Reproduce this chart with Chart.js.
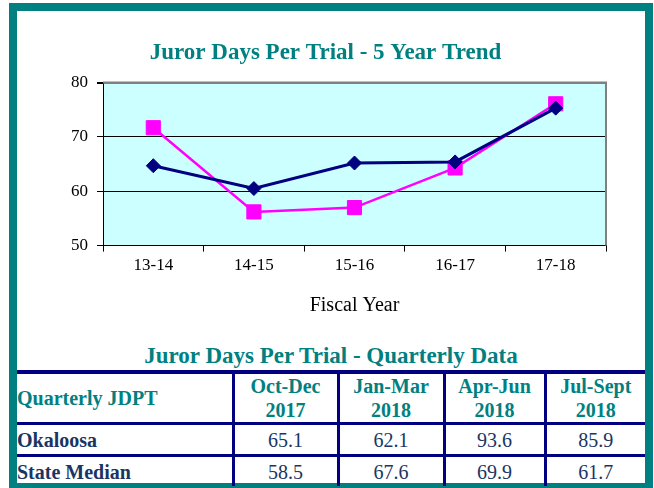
<!DOCTYPE html>
<html>
<head>
<meta charset="utf-8">
<script src="https://cdn.jsdelivr.net/npm/chart.js@4"></script>
<style>
  body { margin: 0; background: #fff; width: 654px; height: 488px; overflow: hidden; position: relative; font-family: "Liberation Serif", "Times New Roman", serif; }
  #frame { position: absolute; left: 9px; top: 3px; width: 644px; height: 488px; border: 8px solid #008080; box-sizing: border-box; background: #fff; }
  #chartBox { position: absolute; left: 17px; top: 11px; width: 628px; height: 324px; }
  #tableTitle { position: absolute; left: 17px; top: 342px; width: 628px; text-align: center; color: #008080; font-weight: bold; font-size: 23px; line-height: 28px; }
  #quarterTable { position: absolute; left: 17px; top: 370px; width: 628px; border-collapse: collapse; table-layout: fixed; }
  #quarterTable td { padding: 0; border: 3px solid #000080; text-align: center; font-size: 20px; color: #1a3563; }
  #quarterTable tr:first-child td { border-top: 4px solid #000080; }
  #quarterTable td:first-child { border-left: none; text-align: left; font-weight: bold; }
  #quarterTable td:last-child { border-right: none; }
  #quarterTable tr:last-child td { border-bottom: none; }
  #quarterTable .head td { color: #008080; font-weight: bold; line-height: 24px; height: 48px; }
  #quarterTable .row td { height: 29px; line-height: 22px; }
</style>
</head>
<body>
<div id="frame"></div>
<div id="chartBox"><canvas id="trendChart" width="628" height="324"></canvas></div>
<div id="tableTitle">Juror Days Per Trial - Quarterly Data</div>
<table id="quarterTable">
  <colgroup><col style="width:216px"><col style="width:105px"><col style="width:106px"><col style="width:101px"><col style="width:100px"></colgroup>
  <tbody id="tableBody"></tbody>
</table>
<script>
const fiscalYears = ["13-14", "14-15", "15-16", "16-17", "17-18"];
const okaloosaTrend = [64.7, 60.5, 65.2, 65.4, 75.3];
const stateTrend = [71.7, 56.2, 57.0, 64.3, 76.1];
const yTicks = [50, 60, 70, 80];

const quarters = [["Oct-Dec", "2017"], ["Jan-Mar", "2018"], ["Apr-Jun", "2018"], ["Jul-Sept", "2018"]];
const okaloosaQuarterly = ["65.1", "62.1", "93.6", "85.9"];
const stateQuarterly = ["58.5", "67.6", "69.9", "61.7"];

const serif = "'Liberation Serif', 'Times New Roman', serif";

// light cyan plot area with a grey frame on top and right
const plotBackground = {
  id: "plotBackground",
  beforeDraw(chart) {
    const { ctx, chartArea: a } = chart;
    ctx.save();
    ctx.fillStyle = "#ccffff";
    ctx.fillRect(a.left, a.top, a.right - a.left, a.bottom - a.top);
    ctx.restore();
  },
  beforeDatasetsDraw(chart) {
    const { ctx, chartArea: a } = chart;
    ctx.save();
    ctx.strokeStyle = "#808080";
    ctx.lineWidth = 2;
    ctx.beginPath();
    ctx.moveTo(a.left, a.top);
    ctx.lineTo(a.right, a.top);
    ctx.lineTo(a.right, a.bottom);
    ctx.stroke();
    ctx.restore();
  }
};

new Chart(document.getElementById("trendChart"), {
  type: "line",
  data: {
    labels: fiscalYears,
    datasets: [
      {
        label: "Okaloosa",
        data: okaloosaTrend,
        borderColor: "#000080",
        backgroundColor: "#000080",
        borderWidth: 3,
        pointStyle: "rectRot",
        pointRadius: 7,
        pointBorderWidth: 1
      },
      {
        label: "State Median",
        data: stateTrend,
        borderColor: "#ff00ff",
        backgroundColor: "#ff00ff",
        borderWidth: 2.5,
        pointStyle: "rect",
        pointRadius: 10,
        pointBorderWidth: 1
      }
    ]
  },
  options: {
    responsive: false,
    animation: false,
    devicePixelRatio: 1,
    layout: { padding: { left: 28, right: 39, top: 0, bottom: 17 } },
    plugins: {
      legend: { display: false },
      tooltip: { enabled: false },
      title: {
        display: true,
        text: "Juror Days Per Trial - 5 Year Trend",
        color: "#008080",
        font: { family: serif, size: 23, weight: "bold" },
        padding: { top: 28, bottom: 16 }
      }
    },
    scales: {
      x: {
        offset: true,
        grid: { offset: true, drawOnChartArea: false, drawTicks: true, tickLength: 6, tickColor: "#000" },
        border: { color: "#000", width: 1 },
        ticks: { color: "#000", font: { family: serif, size: 17 }, padding: 4 },
        title: { display: true, text: "Fiscal Year", color: "#000", font: { family: serif, size: 20 }, padding: { top: 14, bottom: 0 } }
      },
      y: {
        min: yTicks[0],
        max: yTicks[yTicks.length - 1],
        afterBuildTicks(scale) { scale.ticks = yTicks.map(v => ({ value: v })); },
        afterFit(scale) { scale.width = 58; },
        grid: {
          color: c => (c.tick && c.tick.value === 80 ? "#808080" : "#000"),
          lineWidth: c => (c.tick && c.tick.value === 80 ? 2 : 1),
          tickLength: 6,
          tickColor: "#000"
        },
        border: { color: "#000", width: 1 },
        ticks: { color: "#000", font: { family: serif, size: 17 }, padding: 9 }
      }
    }
  },
  plugins: [plotBackground]
});

// quarterly table
const body = document.getElementById("tableBody");
const head = document.createElement("tr");
head.className = "head";
head.innerHTML = "<td>Quarterly JDPT</td>" + quarters.map(q => `<td>${q[0]}<br>${q[1]}</td>`).join("");
body.appendChild(head);
[["Okaloosa", okaloosaQuarterly], ["State Median", stateQuarterly]].forEach(([name, vals]) => {
  const tr = document.createElement("tr");
  tr.className = "row";
  tr.innerHTML = `<td>${name}</td>` + vals.map(v => `<td>${v}</td>`).join("");
  body.appendChild(tr);
});
</script>
</body>
</html>
